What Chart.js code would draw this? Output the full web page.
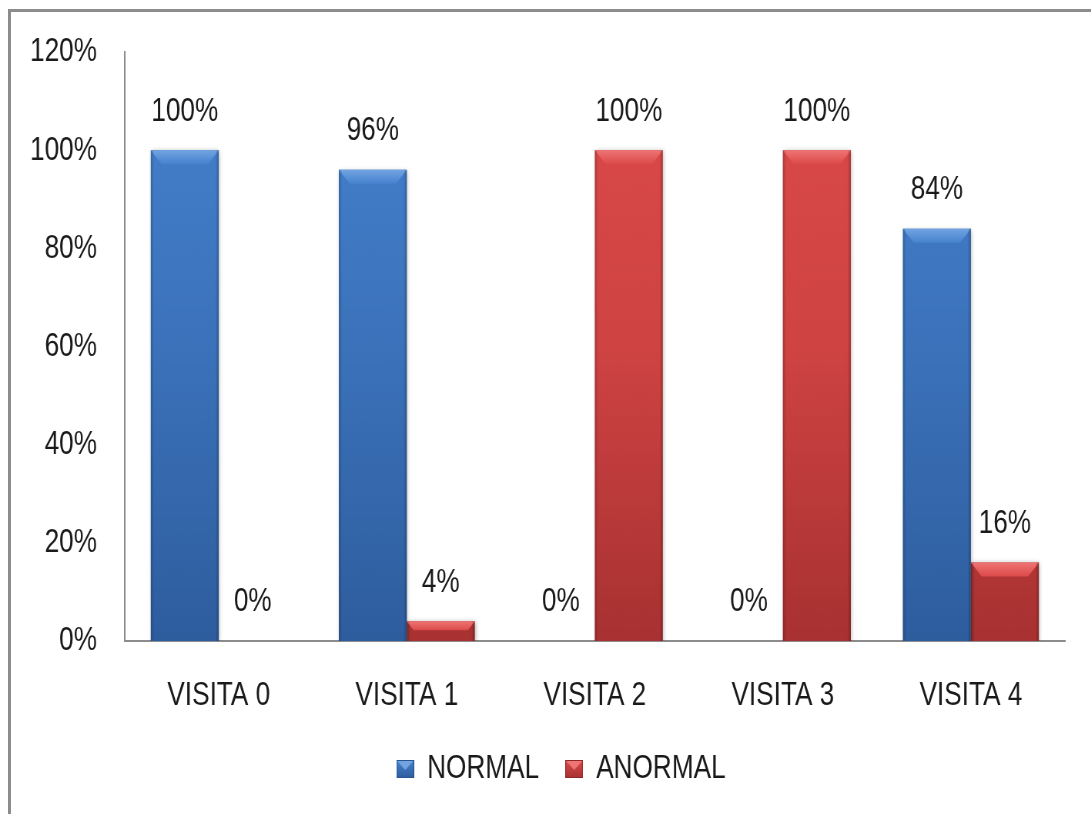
<!DOCTYPE html>
<html>
<head>
<meta charset="utf-8">
<script src="https://cdn.jsdelivr.net/npm/chart.js@4.4.1/dist/chart.umd.min.js"></script>
<style>
  html, body { margin: 0; padding: 0; background: #fff; }
  #wrap { position: relative; width: 1091px; height: 814px; overflow: hidden; }
  #frame { position: absolute; left: 8px; top: 9px; width: 1200px; height: 900px;
           border-left: 3px solid #8c8c8c; border-top: 3px solid #8c8c8c; box-sizing: border-box; }
  /* the chart is laid out wide and compressed horizontally for narrow, tall lettering */
  canvas { position: absolute; left: 0; top: 0; transform: scaleX(0.77); transform-origin: 0 0; }
</style>
</head>
<body>
<div id="wrap">
  <div id="frame"></div>
  <canvas id="c" width="1417" height="814"></canvas>
</div>
<script>
// Visits and the share of normal / abnormal results per visit (%)
const categories = ['VISITA 0', 'VISITA 1', 'VISITA 2', 'VISITA 3', 'VISITA 4'];
const normalValues = [100, 96, 0, 0, 84];
const anormalValues = [0, 4, 100, 100, 16];
const seriesNames = ['NORMAL', 'ANORMAL'];
const yTicks = [0, 20, 40, 60, 80, 100, 120];

const FONT = '"Liberation Sans", Arial, sans-serif';
const FS = 34;

const palette = {
  blue: { top: '#4682cf', mid: '#3b72ba', bot: '#2e5d9e', bevel: '#72a4e2', edge: '#285590' },
  red:  { top: '#dc4a4a', mid: '#cf4343', bot: '#a83131', bevel: '#ef7474', edge: '#8f2828' }
};

function barFill(p) {
  return function (ctx) {
    const chart = ctx.chart;
    const area = chart.chartArea;
    if (!area) return p.mid;
    const g = chart.ctx.createLinearGradient(0, area.top, 0, area.bottom);
    g.addColorStop(0, p.top);
    g.addColorStop(0.5, p.mid);
    g.addColorStop(1, p.bot);
    return g;
  };
}

// small bevelled swatch used as legend marker (wider to offset the compression)
function swatch(p) {
  const w = 23, h = 18;
  const c = document.createElement('canvas');
  c.width = w; c.height = h;
  const x = c.getContext('2d');
  const g = x.createLinearGradient(0, 0, 0, h);
  g.addColorStop(0, p.top); g.addColorStop(1, p.bot);
  x.fillStyle = g; x.fillRect(0, 0, w, h);
  x.fillStyle = p.bevel;
  x.beginPath(); x.moveTo(1, 1); x.lineTo(w - 1, 1); x.lineTo(w / 2, h * 0.55); x.closePath(); x.fill();
  x.strokeStyle = p.edge; x.lineWidth = 1; x.strokeRect(0.5, 0.5, w - 1, h - 1);
  return c;
}

const seriesPalettes = [palette.blue, palette.red];

// soft shadow behind the bars
const shadowPlugin = {
  id: 'barShadow',
  beforeDatasetDraw(chart) {
    const ctx = chart.ctx;
    ctx.save();
    ctx.shadowColor = 'rgba(0,0,0,0.30)';
    ctx.shadowBlur = 5;
    ctx.shadowOffsetX = 1;
    ctx.shadowOffsetY = 1;
  },
  afterDatasetDraw(chart) {
    chart.ctx.restore();
  }
};

// centre the legend under the plot rather than under the whole canvas
const legendShift = {
  id: 'legendShift',
  afterLayout(chart) {
    const lg = chart.legend;
    if (!lg) return;
    const dx = 37;
    lg.left += dx;
    lg.right += dx;
    (lg.legendHitBoxes || []).forEach(b => { b.left += dx; });
  }
};

// bevelled top edge of every bar, plus value labels above the bars
const bevelPlugin = {
  id: 'bevelLabels',
  afterDatasetsDraw(chart) {
    const ctx = chart.ctx;
    chart.data.datasets.forEach((ds, di) => {
      const p = seriesPalettes[di];
      const meta = chart.getDatasetMeta(di);
      meta.data.forEach((bar, i) => {
        const { x, y, base, width } = bar.getProps(['x', 'y', 'base', 'width'], true);
        const h = base - y;
        const l = x - width / 2, r = x + width / 2;
        if (h > 1) {
          ctx.save();
          const bh = Math.min(14, h * 0.45);
          const inset = Math.min(14, bh * 1.0);
          const g = ctx.createLinearGradient(0, y, 0, y + bh);
          g.addColorStop(0, p.bevel);
          g.addColorStop(1, p.top);
          ctx.fillStyle = g;
          ctx.beginPath();
          ctx.moveTo(l, y);
          ctx.lineTo(r, y);
          ctx.lineTo(r - inset, y + bh);
          ctx.lineTo(l + inset, y + bh);
          ctx.closePath();
          ctx.fill();
          // darker side edges
          const eg = ctx.createLinearGradient(l, 0, r, 0);
          eg.addColorStop(0, 'rgba(0,0,0,0.20)');
          eg.addColorStop(0.05, 'rgba(0,0,0,0)');
          eg.addColorStop(0.95, 'rgba(0,0,0,0)');
          eg.addColorStop(1, 'rgba(0,0,0,0.24)');
          ctx.fillStyle = eg;
          ctx.fillRect(l, y, width, h);
          ctx.restore();
        }
        ctx.save();
        ctx.fillStyle = '#1a1a1a';
        ctx.font = FS + 'px ' + FONT;
        ctx.textAlign = 'center';
        ctx.textBaseline = 'middle';
        ctx.fillText(ds.data[i] + '%', x, y - 39);
        ctx.restore();
      });
    });
  }
};

new Chart(document.getElementById('c'), {
  type: 'bar',
  data: {
    labels: categories,
    datasets: [
      { label: seriesNames[0], data: normalValues, backgroundColor: barFill(palette.blue),
        pointStyle: swatch(palette.blue), categoryPercentage: 0.723, barPercentage: 1.0 },
      { label: seriesNames[1], data: anormalValues, backgroundColor: barFill(palette.red),
        pointStyle: swatch(palette.red), categoryPercentage: 0.723, barPercentage: 1.0 }
    ]
  },
  options: {
    responsive: false,
    animation: false,
    layout: { padding: { top: 52, right: 34, left: 0, bottom: 18 } },
    plugins: {
      legend: {
        position: 'bottom',
        labels: {
          usePointStyle: true,
          pointStyleWidth: 23,
          boxWidth: 23,
          boxHeight: 18,
          padding: 34,
          color: '#1a1a1a',
          font: { family: FONT, size: FS }
        }
      },
      tooltip: { enabled: false }
    },
    scales: {
      x: {
        grid: { display: false, drawTicks: false },
        border: { display: true, color: '#8c8c8c', width: 2 },
        ticks: { color: '#1a1a1a', padding: 34, font: { family: FONT, size: FS } },
        afterFit(scale) { scale.height = 77; }
      },
      y: {
        min: 0, max: 120,
        afterBuildTicks(scale) { scale.ticks = yTicks.map(v => ({ value: v })); },
        grid: { display: false, drawTicks: false },
        border: { display: true, color: '#8c8c8c', width: 2 },
        ticks: { color: '#1a1a1a', padding: 36, font: { family: FONT, size: FS },
                 callback: v => v + '%' },
        afterFit(scale) {
          scale.width = 162;
          scale.paddingTop = 0;
          scale.paddingBottom = 0;
        }
      }
    }
  },
  plugins: [shadowPlugin, bevelPlugin, legendShift]
});
</script>
</body>
</html>
